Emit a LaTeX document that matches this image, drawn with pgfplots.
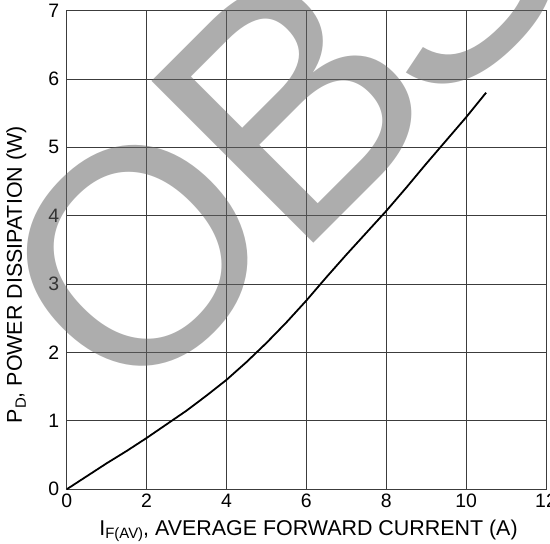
\documentclass[border=0pt]{standalone}
\usepackage{pgfplots}
\pgfplotsset{compat=1.18}
\usepackage{fontspec}
\setmainfont{Liberation Sans}
\definecolor{gridc}{HTML}{3C3C3C}
\definecolor{wmgray}{HTML}{646464}
\newcommand{\sub}[1]{\raisebox{-0.35ex}{\fontsize{15}{15}\selectfont #1}}

\begin{document}
\begin{tikzpicture}
\begin{axis}[
    at={(66.7bp,54.7bp)}, anchor=south west,
    scale only axis, width=479.3bp, height=478.7bp,
    xmin=0, xmax=12, ymin=0, ymax=7,
    xtick={0,2,...,12}, ytick={0,1,...,7},
    grid=major,
    major grid style={color=gridc, line width=0.9bp},
    axis line style={color=gridc, line width=0.9bp},
    major tick length=0pt,
    tick label style={font=\fontsize{19.5}{22}\selectfont},
    yticklabel style={xshift=-4bp},
    xticklabel style={yshift=-1bp},
    /pgf/number format/assume math mode=true,
    label style={font=\fontsize{21.5}{24}\selectfont},
    xlabel={I\sub{F(AV)}, AVERAGE FORWARD CURRENT (A)},
    ylabel={P\sub{D}, POWER DISSIPATION (W)},
    xlabel style={at={(axis description cs:0.5045,-0.0955)}, anchor=base},
    ylabel style={at={(axis description cs:-0.105,0.448)}, anchor=center},
]
    % power dissipation curve
    \addplot[black, line width=1.8bp] coordinates {
        (0,0) (0.5,0.19) (1,0.38) (1.5,0.56) (2,0.75) (2.5,0.95) (3,1.15)
        (3.5,1.37) (4,1.6) (4.5,1.86) (5,2.14) (5.5,2.44) (6,2.76) (6.5,3.1)
        (7,3.43) (7.5,3.75) (8,4.07) (8.5,4.41) (9,4.76) (9.5,5.1)
        (10,5.44) (10.5,5.8)
    };
\end{axis}
% watermark
\node[rotate=45, anchor=base west, inner sep=0pt, text=wmgray, text opacity=0.53,
      font=\fontsize{334}{334}\selectfont] at (128bp,115bp)
      {\kern11bp\raisebox{10bp}{\fontsize{307}{307}\selectfont O}\kern-14bp B\kern-24bp S};
\pgfresetboundingbox
\path[use as bounding box] (0,0) rectangle (550bp,544bp);
\end{tikzpicture}
\end{document}
